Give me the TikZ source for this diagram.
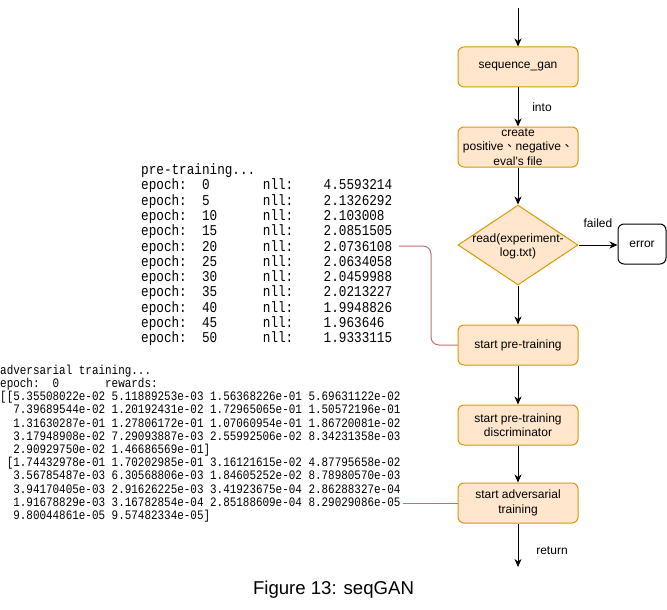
\documentclass[tikz,border=0pt]{standalone}
\usepackage{fontspec}
\setmainfont{Liberation Sans}
\newfontfamily\cjk{Noto Sans CJK TC}
\newfontfamily\term{Liberation Mono}[FakeStretch=0.845]
\usetikzlibrary{arrows.meta,shapes.geometric}
\definecolor{boxfill}{HTML}{FFE6CC}
\definecolor{boxline}{HTML}{D79B00}
\definecolor{redconn}{HTML}{C07070}
\newlength\cw
\newcommand\termA{\term\fontsize{15}{15.3}\selectfont\settowidth{\cw}{0}}
\newcommand\termB{\term\fontsize{12.94}{13.2}\selectfont\settowidth{\cw}{0}}
\begin{document}
\begin{tikzpicture}[x=1pt,y=-1pt,
  flowbox/.style={draw=boxline, fill=boxfill, line width=1pt, rounded corners=6pt,
    minimum width=120pt, minimum height=40pt, inner sep=0pt,
    font=\fontsize{12}{14.5}\selectfont, align=center},
  decbox/.style={diamond, draw=boxline, fill=boxfill, line width=1pt,
    minimum width=120pt, minimum height=80pt, inner sep=0pt},
  errbox/.style={draw=black, fill=white, line width=1pt, rounded corners=6pt,
    minimum width=48pt, minimum height=40pt, inner sep=0pt,
    font=\fontsize{12}{14.5}\selectfont},
  lbl/.style={font=\fontsize{12}{14}\selectfont, inner sep=0pt},
  arr/.style={-{Stealth[length=8pt,width=7pt,inset=2.5pt]}, line width=1pt, black},
  redline/.style={draw=redconn, line width=1pt, rounded corners=8pt},
  termlineA/.style={font=\termA, inner sep=0pt, anchor=base west},
  termlineB/.style={font=\termB, inner sep=0pt, anchor=base west}
]
\fill[white] (0,0) rectangle (667,610);
\useasboundingbox (0,0) rectangle (667,610);

% ---- terminal output: pre-training
\node[termlineA] (pt0) at (141,174.5) {pre-training...};
\foreach \e/\v [count=\i] in {0/4.5593214, 5/2.1326292, 10/2.103008, 15/2.0851505,
  20/2.0736108, 25/2.0634058, 30/2.0459988, 35/2.0213227, 40/1.9948826,
  45/1.963646, 50/1.9333115}
  \node[termlineA] (pt\i) at (141,{174.5+15.3*\i})
    {epoch:\hspace*{2\cw}\makebox[8\cw][l]{\e}nll:\hspace*{4\cw}\v};

% ---- terminal output: adversarial training
\node[termlineB] (at1) at (0,374.3) {adversarial training...};
\node[termlineB] (at2) at (0,387.5) {epoch:\hspace*{2\cw}\makebox[8\cw][l]{0}rewards:};
\node[termlineB] (at3) at (0,400.7) {[[5.35508022e-02 5.11889253e-03 1.56368226e-01 5.69631122e-02};
\node[termlineB] (at4) at (0,413.9) {\hspace*{2\cw}7.39689544e-02 1.20192431e-02 1.72965065e-01 1.50572196e-01};
\node[termlineB] (at5) at (0,427.1) {\hspace*{2\cw}1.31630287e-01 1.27806172e-01 1.07060954e-01 1.86720081e-02};
\node[termlineB] (at6) at (0,440.3) {\hspace*{2\cw}3.17948908e-02 7.29093887e-03 2.55992506e-02 8.34231358e-03};
\node[termlineB] (at7) at (0,453.5) {\hspace*{2\cw}2.90929750e-02 1.46686569e-01]};
\node[termlineB] (at8) at (0,466.7) {\hspace*{1\cw}[1.74432978e-01 1.70202985e-01 3.16121615e-02 4.87795658e-02};
\node[termlineB] (at9) at (0,479.9) {\hspace*{2\cw}3.56785487e-03 6.30568806e-03 1.84605252e-02 8.78980570e-03};
\node[termlineB] (at10) at (0,493.1) {\hspace*{2\cw}3.94170405e-03 2.91626225e-03 3.41923675e-04 2.86288327e-04};
\node[termlineB] (at11) at (0,506.3) {\hspace*{2\cw}1.91678829e-03 3.16782854e-04 2.85188609e-04 8.29029086e-05};
\node[termlineB] (at12) at (0,519.5) {\hspace*{2\cw}9.80044861e-05 9.57482334e-05]};

% ---- flowchart
\coordinate (start) at (518,8);
\node[flowbox] (seq) at (518,67) {sequence\_gan};
\node[flowbox] (create) at (518,147) {create\\positive{\cjk 、}negative{\cjk 、}\\eval's file};
\node[decbox] (dia) at (518,245) {};
\node[lbl, align=center, font=\fontsize{12}{14}\selectfont] (diatext) at (518,246) {read(experiment-\\log.txt)};
\node[errbox] (err) at (642,244) {error};
\node[flowbox] (pre) at (518,345) {start pre-training};
\node[flowbox] (disc) at (518,425) {start pre-training\\discriminator};
\node[flowbox] (adv) at (518,503) {start adversarial\\training};
\coordinate (end) at (518,567);

\draw[arr] (start) -- (seq);
\draw[arr] (seq) -- (create);
\draw[arr] (create) -- (dia);
\draw[arr] (dia.east) -- (dia.east -| err.west);
\draw[arr] (dia) -- (pre);
\draw[arr] (pre) -- (disc);
\draw[arr] (disc) -- (adv);
\draw[arr] (adv) -- (end);

\node[lbl] (into) at (542,107) {into};
\node[lbl] (failed) at (598,223) {failed};
\node[lbl] (ret) at (552,551) {return};

% ---- red connectors from terminal output
\coordinate (r1) at (399,246);
\coordinate (bend) at (431,0);
\draw[redline] (r1) -- (r1 -| bend) |- (pre.west);
\coordinate (r2) at (403,503);
\draw[redline] (r2) -- (adv.west);

% ---- caption
\node[font=\fontsize{18.6}{22}\selectfont, inner sep=0pt] (cap) at (333.5,590) {Figure 13: seqGAN};
\end{tikzpicture}
\end{document}
